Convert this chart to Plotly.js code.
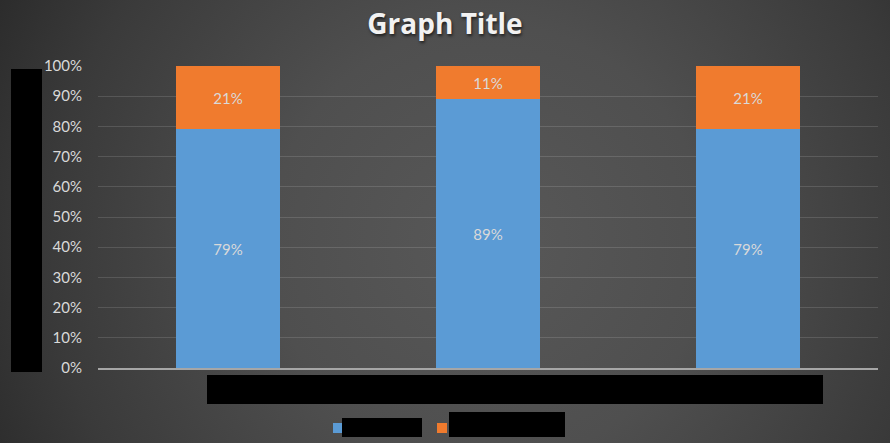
<!DOCTYPE html>
<html>
<head>
<meta charset="utf-8">
<script src="https://cdn.plot.ly/plotly-3.0.1.min.js"></script>
<style>
  html, body { margin: 0; padding: 0; }
  body {
    width: 890px; height: 443px; overflow: hidden;
    background: radial-gradient(circle farthest-corner at 55% 55%, #585858 0%, #4f4f4f 40%, #3a3a3a 80%, #2c2c2c 100%);
  }
  #chart { width: 890px; height: 443px; }
</style>
</head>
<body>
<div id="chart"></div>
<script>
// categories (their names are blacked out in the reference)
var categories = ['Category 1', 'Category 2', 'Category 3'];
var series1 = [0.79, 0.89, 0.79];
var series2 = [0.21, 0.11, 0.21];
var series1Name = 'Series 1';
var series2Name = 'Series 2';

var blue = '#5b9bd5';
var orange = '#f07b2e';
var labelColor = '#d9d9d9';

// plot area in pixels
var L = 98, R = 12, T = 66, B = 75, W = 890, H = 443;
var pw = W - L - R, ph = H - T - B;
function px(x) { return (x - L) / pw; }
function py(y) { return (H - B - y) / ph; }
function box(x0, y0, x1, y1, color) {
  return {
    type: 'rect', xref: 'paper', yref: 'paper', layer: 'above',
    x0: px(x0), x1: px(x1), y0: py(y1), y1: py(y0),
    fillcolor: color, line: {width: 0}
  };
}

var trace1 = {
  x: categories,
  y: series1,
  name: series1Name,
  type: 'bar',
  marker: {color: blue},
  texttemplate: '%{y:.0%}',
  textposition: 'inside',
  insidetextanchor: 'middle',
  textfont: {color: labelColor, size: 15, family: 'Lato, sans-serif'},
  hoverinfo: 'skip'
};

var trace2 = {
  x: categories,
  y: series2,
  name: series2Name,
  type: 'bar',
  marker: {color: orange},
  texttemplate: '%{y:.0%}',
  textposition: 'inside',
  insidetextanchor: 'middle',
  textfont: {color: labelColor, size: 15, family: 'Lato, sans-serif'},
  hoverinfo: 'skip'
};

var data = [trace1, trace2];

var layout = {
  width: W, height: H,
  barmode: 'stack',
  bargap: 0.6,
  paper_bgcolor: 'rgba(0,0,0,0)',
  plot_bgcolor: 'rgba(0,0,0,0)',
  margin: {l: L, r: R, t: T, b: B},
  showlegend: false,
  font: {family: 'Lato, sans-serif', color: labelColor},
  title: {
    text: 'Graph Title',
    font: {family: 'Open Sans, sans-serif', size: 28, weight: 700, color: '#f2f2f2',
           shadow: '1px 2px 3px rgba(0,0,0,0.6)'},
    x: 0.5, xref: 'container', xanchor: 'center',
    y: 1 - 24 / H, yref: 'container', yanchor: 'middle'
  },
  xaxis: {
    type: 'category',
    showgrid: false,
    showline: true,
    linecolor: '#a6a6a6',
    linewidth: 2,
    ticks: '',
    showticklabels: false
  },
  yaxis: {
    range: [0, 1],
    dtick: 0.1,
    tickformat: '.0%',
    showgrid: true,
    gridcolor: 'rgba(255,255,255,0.13)',
    gridwidth: 1,
    zeroline: false,
    ticks: '',
    ticklabelstandoff: 15,
    tickfont: {size: 15, color: labelColor},
    fixedrange: true
  },
  shapes: [
    // blacked-out text from the reference
    box(11, 69, 42, 372, '#000'),
    box(207, 375, 823, 404, '#000'),
    // legend
    box(333, 423, 342, 433, blue),
    box(342, 418, 422, 437, '#000'),
    box(437, 423, 447, 433, orange),
    box(449, 412, 565, 437, '#000')
  ]
};

Plotly.newPlot('chart', data, layout, {staticPlot: true, displayModeBar: false});
</script>
</body>
</html>
